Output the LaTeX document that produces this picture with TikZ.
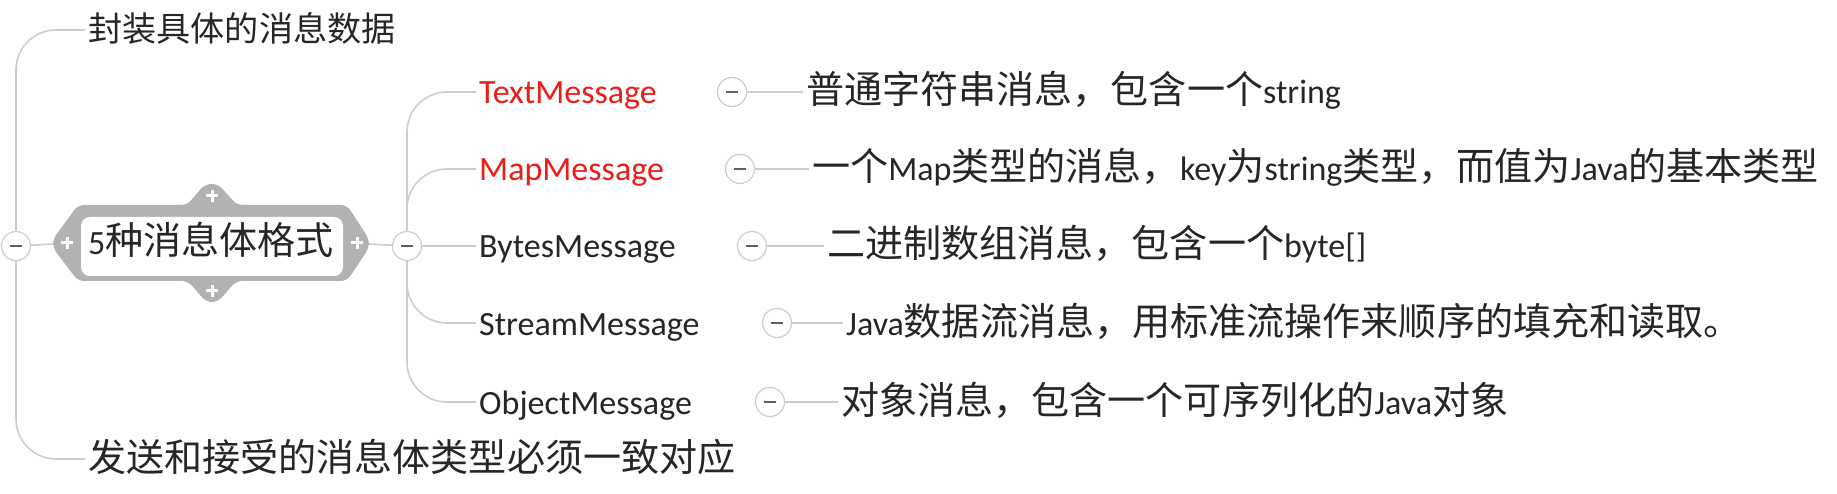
\documentclass[tikz,border=0pt]{standalone}
\usepackage{fontspec}
\usepackage{xcolor}
\setmainfont{Carlito}
\newfontfamily\cjk[Scale=1.12]{Noto Sans CJK SC}
\newcommand{\zh}[1]{{\cjk #1}}
\definecolor{mapred}{RGB}{236,28,22}
\definecolor{mapink}{RGB}{38,38,38}
\definecolor{mapline}{RGB}{205,205,205}
\definecolor{mapframe}{RGB}{178,178,178}
\definecolor{mapminus}{RGB}{95,95,95}

\begin{document}
\begin{tikzpicture}[x=1pt,y=-1pt]
    \tikzstyle{topic} = [inner sep=3pt, text height=32pt, text depth=8pt, font=\fontsize{34}{40}\selectfont, text=mapink]
    \tikzstyle{msg} = [topic, anchor=west]
    \tikzstyle{toggle} = [circle, draw=mapline, fill=white, line width=1.2pt, minimum size=29pt, inner sep=0pt, path picture={\draw[mapminus, line width=2pt] ([xshift=-6pt]path picture bounding box.center) -- ([xshift=6pt]path picture bounding box.center);}]
    \tikzstyle{link} = [mapline, line width=1.6pt, rounded corners=40pt]

    \useasboundingbox (0,0) rectangle (1837,494);

    % central topic frame
    \fill[mapframe, rounded corners=6pt] (78,205) -- (187,205) -- (205,184) -- (218,184) -- (237,205) -- (347,205) -- (369,239) -- (369,248) -- (347,281) -- (236,281) -- (218,302) -- (206,302) -- (188,281) -- (78,281) -- (53,248) -- (53,239) -- cycle;
    \fill[white, rounded corners=9pt] (81,217) rectangle (343,276);
    \draw[white, line width=3pt] (61,243) -- (73,243) (67,237) -- (67,249)
        (351,243) -- (363,243) (357,237) -- (357,249)
        (206,196) -- (218,196) (212,190) -- (212,202)
        (206,291) -- (218,291) (212,285) -- (212,297);
    \node[topic] (title) at (211,243) {5\zh{种消息体格式}};
    \coordinate (tipL) at (53,244);
    \coordinate (tipR) at (369,244);

    \node[toggle] (lfold) at (16,246) {};
    \node[toggle] (rfold) at (407,246) {};

    \node[msg, font=\fontsize{30.5}{36}\selectfont] (wrap) at (85,30) {\zh{封装具体的消息数据}};
    \node[msg] (match) at (85,459) {\zh{发送和接受的消息体类型必须一致对应}};

    \node[msg, text=mapred] (textmsg) at (476,92) {TextMessage};
    \node[msg, text=mapred] (mapmsg) at (476,169) {MapMessage};
    \node[msg] (bytesmsg) at (476,246) {BytesMessage};
    \node[msg] (streammsg) at (476,323) {StreamMessage};
    \node[msg] (objectmsg) at (476,402) {ObjectMessage};

    \node[toggle] (textfold) at (732,92) {};
    \node[toggle] (mapfold) at (740,169) {};
    \node[toggle] (bytesfold) at (752,246) {};
    \node[toggle] (streamfold) at (777,323) {};
    \node[toggle] (objectfold) at (770,402) {};

    \node[msg] (textdesc) at (803,92) {\zh{普通字符串消息，包含一个}string};
    \node[msg] (mapdesc) at (809,169) {\zh{一个}Map\zh{类型的消息，}key\zh{为}string\zh{类型，而值为}Java\zh{的基本类型}};
    \node[msg] (bytesdesc) at (824,246) {\zh{二进制数组消息，包含一个}byte[]};
    \node[msg] (streamdesc) at (843,323) {Java\zh{数据流消息，用标准流操作来顺序的填充和读取。}};
    \node[msg] (objectdesc) at (838,402) {\zh{对象消息，包含一个可序列化的}Java\zh{对象}};

    \draw[link] (lfold) -- (tipL);
    \draw[link] (tipR) -- (rfold);
    \draw[link] (lfold) |- (wrap.west);
    \draw[link] (lfold) |- (match.west);

    \draw[link] (rfold) |- (textmsg.west);
    \draw[link] (rfold) |- (mapmsg.west);
    \draw[link] (rfold) -- (bytesmsg.west);
    \draw[link] (rfold) |- (streammsg.west);
    \draw[link] (rfold) |- (objectmsg.west);

    \draw[link] (textfold) -- (textdesc.west);
    \draw[link] (mapfold) -- (mapdesc.west);
    \draw[link] (bytesfold) -- (bytesdesc.west);
    \draw[link] (streamfold) -- (streamdesc.west);
    \draw[link] (objectfold) -- (objectdesc.west);
\end{tikzpicture}
\end{document}
